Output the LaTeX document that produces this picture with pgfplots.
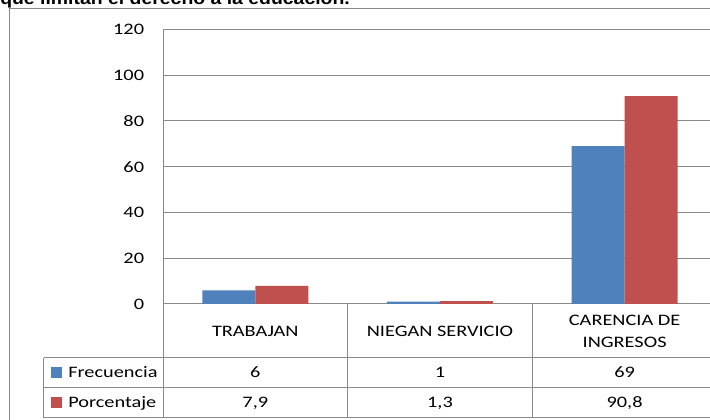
\documentclass[border=0pt]{standalone}
\usepackage{pgfplots}
\pgfplotsset{compat=1.18}
\usepackage{fontspec}
\setmainfont{Carlito}[FakeStretch=1.27]
\newfontfamily\titlefont{Liberation Sans}[FakeStretch=1.12]
\definecolor{gridc}{HTML}{8A8A8A}
\definecolor{barblue}{HTML}{4F81BD}
\definecolor{barred}{HTML}{C0504D}
\newcommand{\tfont}{\fontsize{12}{14}\selectfont}
\begin{document}
\begin{tikzpicture}[x=0.75pt,y=0.75pt]
\useasboundingbox (0,0) rectangle (710,420);
\clip (0,0) rectangle (710,420);
\coordinate (A) at (163,116);
% title (cut at top)
\node[anchor=base west, inner sep=0pt, font=\titlefont\bfseries\fontsize{13}{15}\selectfont] at (0,415) {que limitan el derecho a la educación.};
% outer chart border
\draw[gridc, line width=0.75pt] (9.5,411.5) rectangle (740,-20);
\begin{axis}[
  at={(A)}, anchor=south west,
  width=415.4pt, height=206pt, scale only axis,
  xmin=-0.5, xmax=2.5, ymin=0, ymax=120,
  ytick={0,20,...,120}, xtick=\empty,
  axis y line*=left, axis x line=none,
  axis line style={gridc, line width=0.75pt},
  ymajorgrids, grid style={gridc, line width=0.75pt},
  major tick length=0pt,
  /pgf/number format/assume math mode=true,
  yticklabel style={font=\tfont, inner sep=0pt, xshift=-14pt},
  ybar=0pt, bar width=39.75pt,
  clip=false,
]
\addplot[fill=barblue, draw=none] coordinates {(0,6) (1,1) (2,69)};
\addplot[fill=barred, draw=none] coordinates {(0,7.9) (1,1.3) (2,90.8)};
\end{axis}
% data table lines
\begin{scope}[gridc, line width=0.75pt]
\draw (163,116) -- (163,2.3);
\draw (347.7,116) -- (347.7,2.3);
\draw (532.3,116) -- (532.3,2.3);
\draw (43.7,62.3) -- (720,62.3);
\draw (43.7,32.3) -- (720,32.3);
\draw (43.7,2.3) -- (720,2.3);
\draw (43.7,62.3) -- (43.7,2.3);
\end{scope}
% category labels
\begin{scope}[font=\tfont, inner sep=0pt]
\node at (255.3,89) {TRABAJAN};
\node at (440,89) {NIEGAN SERVICIO};
\node at (624.6,100) {CARENCIA DE};
\node at (624.6,78) {INGRESOS};
\node at (255.3,47.5) {6};
\node at (440,47.5) {1};
\node at (624.6,47.5) {69};
\node at (255.3,17) {7,9};
\node at (440,17) {1,3};
\node at (624.6,17) {90,8};
\fill[barblue] (51,53) rectangle (62,42);
\fill[barred] (51,22.5) rectangle (62,11.5);
\node[anchor=west] at (68,47.5) {Frecuencia};
\node[anchor=west] at (68,17) {Porcentaje};
\end{scope}
\end{tikzpicture}
\end{document}
